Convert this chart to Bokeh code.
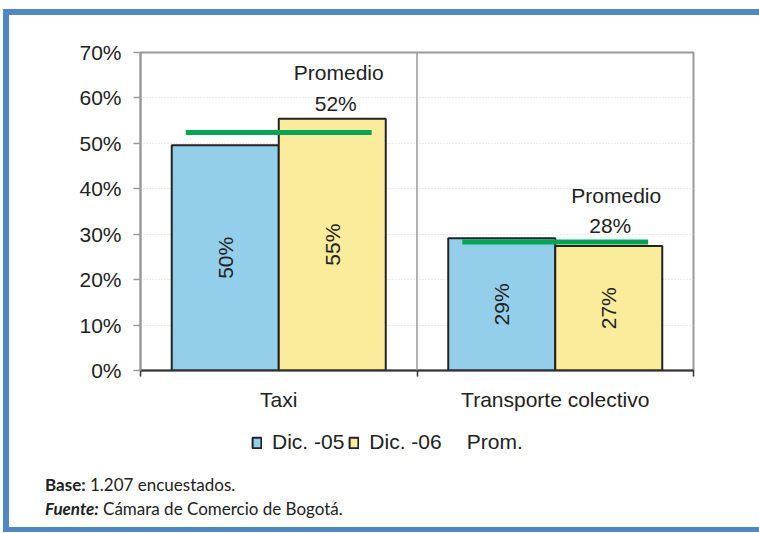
from math import pi
from bokeh.plotting import figure
from bokeh.models import (ColumnDataSource, Range1d, FixedTicker, NumeralTickFormatter, Span,
                          Label, Legend, LegendItem, Div)
from bokeh.transform import dodge
from bokeh.layouts import column
from bokeh.embed import file_html
from bokeh.resources import INLINE
from bokeh.core.properties import value

# ---------------- data ----------------
categories = ["Taxi", "Transporte colectivo"]
dic05 = [0.496, 0.291]
dic06 = [0.554, 0.274]
promedio = [0.524, 0.283]
series_names = ["Dic. -05", "Dic. -06", "Prom."]
y_ticks = [0.0, 0.1, 0.2, 0.3, 0.4, 0.5, 0.6, 0.7]
avg_title = "Promedio"
note_base = ["Base:", "1.207 encuestados."]
note_source = ["Fuente:", "Cámara de Comercio de Bogotá."]

# ---------------- style ----------------
FONT = "Liberation Sans"
NOTE_FONT = "Lato"
FS = "21px"
BLUE = "#93cfeb"
YELLOW = "#faec9b"
GREEN = "#00a651"
FRAME = "#9a9a9a"
TXT = "#222222"
EDGE = "#222222"
BORDER = "#4f88c6"
BAR_W = 0.387
OFF = BAR_W / 2
AVG_HALF = 0.336


def pct(v):
    return f"{round(v * 100)}%"


n = len(categories)
centers = [i + 0.5 for i in range(n)]          # category slots on a 0..n axis
bounds = [float(i) for i in range(n + 1)]      # slot boundaries

src = ColumnDataSource(dict(
    xc=centers,
    d05=dic05, d06=dic06, prom=promedio,
    d05_mid=[v / 2 for v in dic05], d06_mid=[v / 2 for v in dic06],
    d05_lbl=[pct(v) for v in dic05], d06_lbl=[pct(v) for v in dic06],
))

p = figure(x_range=Range1d(0, n), y_range=Range1d(0, 0.7),
           width=750, height=400, output_backend="svg", toolbar_location=None,
           min_border_left=131, min_border_right=66, min_border_top=37, min_border_bottom=45,
           background_fill_color="white", border_fill_color="white",
           outline_line_color=FRAME, outline_line_width=2)

# y axis
p.yaxis.ticker = FixedTicker(ticks=y_ticks)
p.yaxis.formatter = NumeralTickFormatter(format="0%")
p.yaxis.axis_line_color = FRAME
p.yaxis.axis_line_width = 2
p.yaxis.major_tick_line_color = FRAME
p.yaxis.major_tick_line_width = 1.5
p.yaxis.major_tick_out = 7
p.yaxis.major_tick_in = 0
p.yaxis.minor_tick_line_color = None
p.yaxis.major_label_text_font = FONT
p.yaxis.major_label_text_font_size = FS
p.yaxis.major_label_text_color = TXT
p.yaxis.major_label_standoff = 12

p.ygrid.ticker = FixedTicker(ticks=y_ticks)
p.ygrid.grid_line_color = "#d4d4d4"
p.ygrid.grid_line_dash = "1 2"
p.ygrid.grid_line_width = 1
p.xgrid.visible = False

# x axis: category names at slot centres, tick marks at slot boundaries
p.xaxis.ticker = FixedTicker(ticks=centers, minor_ticks=bounds)
p.xaxis.major_label_overrides = {c: name for c, name in zip(centers, categories)}
p.xaxis.axis_line_color = "#333333"
p.xaxis.axis_line_width = 2
p.xaxis.major_tick_line_color = None
p.xaxis.minor_tick_line_color = "#333333"
p.xaxis.minor_tick_line_width = 1.5
p.xaxis.minor_tick_out = 6
p.xaxis.minor_tick_in = 0
p.xaxis.major_label_text_font = FONT
p.xaxis.major_label_text_font_size = FS
p.xaxis.major_label_text_color = TXT
p.xaxis.major_label_standoff = 11

for b in bounds[1:-1]:
    p.add_layout(Span(location=b, dimension="height", line_color=FRAME, line_width=1.5))

# bars
r05 = p.vbar(x=dodge("xc", -OFF), top="d05", width=BAR_W, source=src,
             fill_color=BLUE, line_color=EDGE, line_width=2)
r06 = p.vbar(x=dodge("xc", OFF), top="d06", width=BAR_W, source=src,
             fill_color=YELLOW, line_color=EDGE, line_width=2)

# average lines
ravg = p.segment(x0=dodge("xc", -AVG_HALF), x1=dodge("xc", AVG_HALF),
                 y0="prom", y1="prom", source=src, line_color=GREEN, line_width=5)

# bar value labels (rotated)
p.text(x=dodge("xc", -OFF), y="d05_mid", text="d05_lbl", source=src, angle=pi / 2,
       text_align="center", text_baseline="middle", text_font=value(FONT),
       text_font_size=FS, text_color=TXT)
p.text(x=dodge("xc", OFF), y="d06_mid", text="d06_lbl", source=src, angle=pi / 2,
       text_align="center", text_baseline="middle", text_font=value(FONT),
       text_font_size=FS, text_color=TXT)

# Promedio annotations (offsets in screen px from the average line's centre)
offsets = [((60, 60), (57, 29)), ((61, 46), (55, 16))]
for i in range(n):
    (tx, ty), (vx, vy) = offsets[i]
    p.add_layout(Label(x=centers[i], y=promedio[i], x_offset=tx, y_offset=ty, text=avg_title,
                       text_align="center", text_baseline="middle", text_font=FONT,
                       text_font_size=FS, text_color=TXT))
    p.add_layout(Label(x=centers[i], y=promedio[i], x_offset=vx, y_offset=vy,
                       text=pct(promedio[i]),
                       text_align="center", text_baseline="middle", text_font=FONT,
                       text_font_size=FS, text_color=TXT))

# legend strip (own small figure so nothing is clipped by the chart frame;
# its frame is aligned with the chart frame by the column layout)
lg = figure(x_range=Range1d(0, n), y_range=Range1d(0, 1), width=750, height=58,
            output_backend="svg", toolbar_location=None,
            x_axis_location=None, y_axis_location=None,
            min_border=0, min_border_left=0, min_border_right=0,
            min_border_top=0, min_border_bottom=0,
            outline_line_color=None, background_fill_color="white", border_fill_color="white")
lg.grid.visible = False
k05 = lg.vbar(x="xc", top="d05", width=BAR_W, source=src, fill_color=BLUE,
              line_color=EDGE, line_width=2, visible=False)
k06 = lg.vbar(x="xc", top="d06", width=BAR_W, source=src, fill_color=YELLOW,
              line_color=EDGE, line_width=2, visible=False)
kav = lg.segment(x0="xc", x1="xc", y0="prom", y1="prom", source=src,
                 line_alpha=0, visible=False)   # the original shows no symbol before "Prom."
legend = Legend(items=[LegendItem(label=series_names[0], renderers=[k05]),
                       LegendItem(label=series_names[1], renderers=[k06]),
                       LegendItem(label=series_names[2], renderers=[kav])],
                orientation="horizontal", location=(111, 19),
                glyph_width=11, glyph_height=13, label_standoff=10, spacing=4,
                padding=0, margin=0, border_line_color=None, background_fill_alpha=0,
                inactive_fill_alpha=0,
                label_text_font=FONT, label_text_font_size=FS, label_text_color=TXT)
lg.add_layout(legend)

# footnotes
notes = Div(text=(f"<b>{note_base[0]}</b> {note_base[1]}<br>"
                  f"<b><i>{note_source[0]}</i></b> {note_source[1]}"),
            width=700, height=54, margin=0,
            styles={"font-family": NOTE_FONT, "font-size": "17px", "line-height": "24px",
                    "color": TXT, "padding-left": "36px"})

layout = column(p, lg, notes, spacing=0,
                styles={"margin-left": "3px", "margin-top": "9px",
                        "border-top": f"6px solid {BORDER}",
                        "border-left": f"6px solid {BORDER}",
                        "border-bottom": f"5px solid {BORDER}"})

open("out.html", "w").write(file_html(layout, INLINE))
